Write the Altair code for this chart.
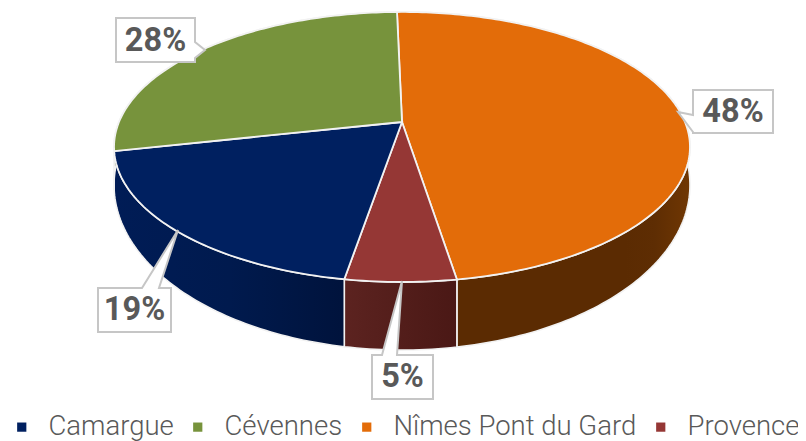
import math
import altair as alt

categories = ["Camargue", "Cévennes", "Nîmes Pont du Gard", "Provence"]
colors = ["#002060", "#77933C", "#E36C09", "#953735"]

# Slices clockwise from the top of the pie
slice_names = ["Nîmes Pont du Gard", "Provence", "Camargue", "Cévennes"]
slice_values = [47.8, 5.2, 18.9, 28.1]
wall_stops = {
    "Nîmes Pont du Gard": [(0, "#5B2B02"), (0.78, "#5B2B02"), (0.88, "#5E2D03"), (1, "#703703")],
    "Provence": [(0, "#5C2320"), (1, "#4A1815")],
    "Camargue": [(0, "#001C56"), (0.5, "#001A4E"), (1, "#00133C")],
    "Cévennes": [(0, "#4A5C25"), (1, "#4A5C25")],
}
start_angle = -1.2

# Projection of the tilted disc
CX, CY = 394.0, 114.0
A_TOP, B_TOP, PERSP = 283.0, 130.4, 0.185
A_BASE, B_BASE, CY_BASE = 283.0, 159.4, 146.5


def rim(deg, a, b, cy):
    t = math.radians(deg)
    u, v = math.sin(t), math.cos(t)
    w = 1 + PERSP * v
    return [CX + a * u / w, cy - b * v / w]


def arc(d0, d1, a, b, cy):
    n = max(2, int(abs(d1 - d0)))
    return [rim(d0 + (d1 - d0) * i / n, a, b, cy) for i in range(n + 1)]


def feature(ring, name):
    ring = ring + [ring[0]]
    return {"type": "Feature", "properties": {"name": name},
            "geometry": {"type": "Polygon", "coordinates": [ring]}}


tops, walls = [], []
angle = start_angle
total = sum(slice_values)
for name, val in zip(slice_names, slice_values):
    end = angle + 360 * val / total
    tops.append(feature([[CX, CY]] + arc(angle, end, A_TOP, B_TOP, CY), name))
    walls.append((name, feature(arc(angle, end, A_TOP, B_TOP, CY)
                                + arc(end, angle, A_BASE, B_BASE, CY_BASE), name)))
    angle = end

PROJ = alt.Projection(type="identity", scale=1, translate=[0, 0])

wall_layers = []
for name, f in walls:
    grad = alt.LinearGradient(
        gradient="linear", x1=0, x2=1, y1=0, y2=0,
        stops=[alt.GradientStop(offset=o, color=c) for o, c in wall_stops[name]])
    wall_layers.append(
        alt.Chart(alt.Data(values=[f])).mark_geoshape(
            filled=True, fill=grad, stroke="#F2F2F2", strokeWidth=1.6
        ).project(**PROJ.to_dict())
    )

top_layer = alt.Chart(alt.Data(values=tops)).mark_geoshape(
    filled=True, stroke="#F2F2F2", strokeWidth=1.8
).encode(
    color=alt.Color(
        "properties.name:N",
        scale=alt.Scale(domain=categories, range=colors),
        legend=alt.Legend(
            title=None, orient="none", legendX=0, legendY=405, direction="horizontal",
            columns=4, symbolType="square", symbolSize=85, symbolStrokeWidth=0,
            labelFont="Roboto", labelFontWeight=300, labelFontSize=27.5, labelColor="#595959",
            labelOffset=13, columnPadding=10, labelLimit=400, padding=0,
        ),
    )
).project(**PROJ.to_dict())

# Callout outlines: box plus pointer
callouts = [
    feature([[108, 10], [187, 10], [187, 34], [197, 42], [187, 50], [187, 54], [108, 54]], "28%"),
    feature([[685, 82], [765, 82], [765, 125], [685, 125], [685, 124], [670, 104], [685, 107]], "48%"),
    feature([[90, 280], [134, 280], [170, 222], [151, 280], [163, 280], [163, 324], [90, 324]], "19%"),
    feature([[364, 347], [374, 347], [394, 273], [389, 347], [425, 347], [425, 391], [364, 391]], "5%"),
]
callout_layer = alt.Chart(alt.Data(values=callouts)).mark_geoshape(
    filled=True, fill="white", stroke="#C6C6C6", strokeWidth=2
).project(**PROJ.to_dict())

label_x = [147.5, 725, 126.5, 394.5]
label_y = [33, 103.5, 302, 369]
labels = [{"t": f"{v}%", "x": x, "y": y} for v, x, y in zip([28, 48, 19, 5], label_x, label_y)]
text_layer = alt.Chart(alt.Data(values=labels)).mark_text(
    font="Roboto", fontWeight="bold", fontSize=32.5, color="#595959",
    align="center", baseline="middle"
).encode(
    x=alt.X("x:Q", scale=None, axis=None),
    y=alt.Y("y:Q", scale=None, axis=None),
    text="t:N",
)

chart = alt.layer(*wall_layers, top_layer, callout_layer, text_layer).properties(
    width=790, height=433, padding=0,
    autosize=alt.AutoSizeParams(type="none"),
).configure_view(stroke=None)

chart.save("out.html", embed_options={"renderer": "svg", "actions": False})
